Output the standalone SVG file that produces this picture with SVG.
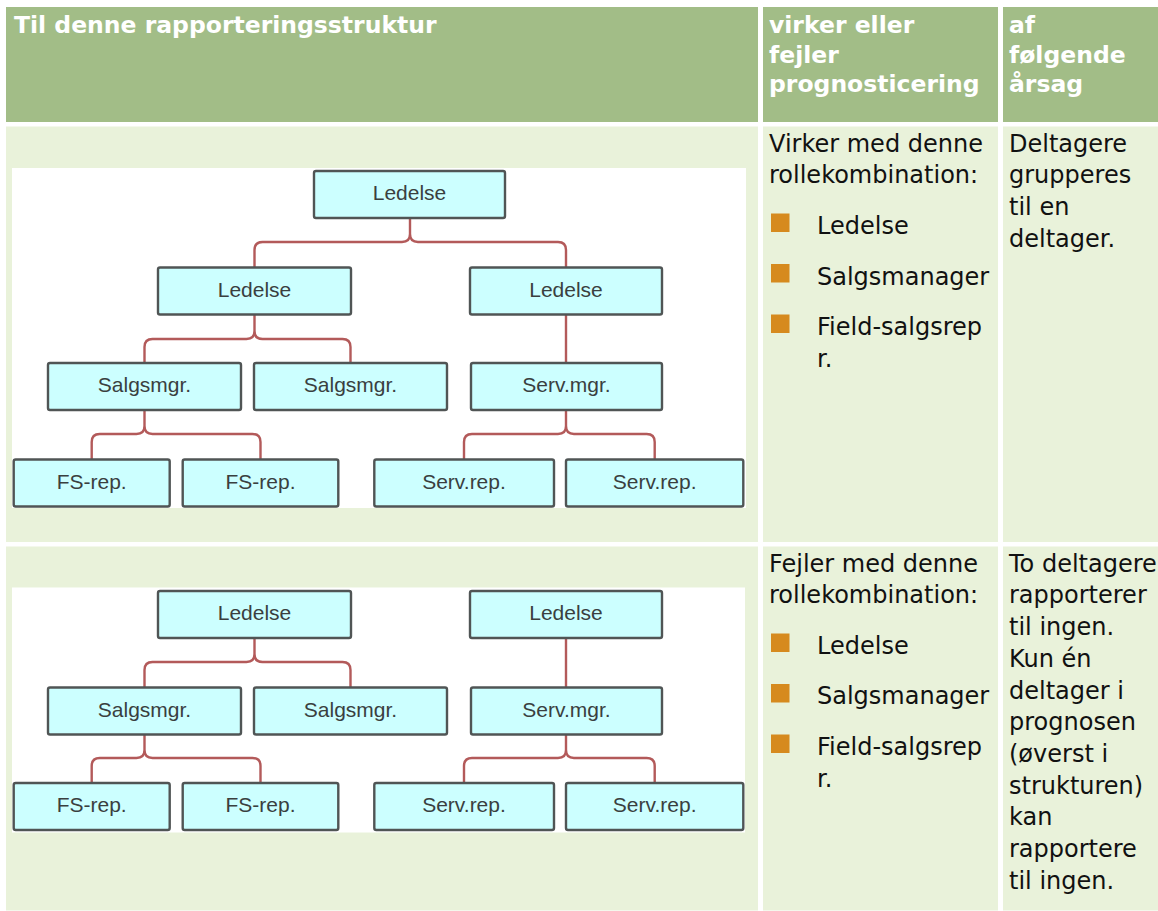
<svg xmlns="http://www.w3.org/2000/svg" width="1158" height="911" viewBox="0 0 1158 911">
<style>
.hd{fill:#a2bd87}
.rw{fill:#e9f2da}
.ht{font-family:"DejaVu Sans",Verdana,sans-serif;font-weight:bold;font-size:23.5px;fill:#ffffff}
.bt{font-family:"DejaVu Sans",Verdana,sans-serif;font-size:24px;fill:#111111}
.bl{fill:#d68a1e}
.nd rect{fill:#ccffff;stroke:#505555;stroke-width:2.4}
.nd text{font-family:"Liberation Sans",Arial,sans-serif;font-size:21px;fill:#3a3f3f;text-anchor:middle}
.cn path{fill:none;stroke:#b35a5a;stroke-width:2.4}
</style>
<rect width="1158" height="911" fill="#ffffff"/>
<!-- header -->
<rect class="hd" x="6" y="7" width="752" height="115"/>
<rect class="hd" x="763" y="7" width="235" height="115"/>
<rect class="hd" x="1003" y="7" width="160" height="115"/>
<text class="ht" x="14" y="33.3">Til denne rapporteringsstruktur</text>
<text class="ht" x="769"><tspan x="769" y="33.3">virker eller</tspan><tspan x="769" y="62.5">fejler</tspan><tspan x="769" y="91.7">prognosticering</tspan></text>
<text class="ht" x="1009"><tspan x="1009" y="33.3">af</tspan><tspan x="1009" y="62.5">følgende</tspan><tspan x="1009" y="91.7">årsag</tspan></text>
<!-- row 1 -->
<rect class="rw" x="6" y="126.5" width="752" height="415.5"/>
<rect class="rw" x="763" y="126.5" width="235" height="415.5"/>
<rect class="rw" x="1003" y="126.5" width="160" height="415.5"/>
<rect x="12" y="168" width="734" height="340" fill="#ffffff"/>
<text class="bt"><tspan x="769" y="151.7">Virker med denne</tspan><tspan x="769" y="183.4">rollekombination:</tspan></text>
<rect class="bl" x="771" y="213.5" width="18.5" height="18.5"/>
<rect class="bl" x="771" y="264" width="18.5" height="18.5"/>
<rect class="bl" x="771" y="314.5" width="18.5" height="18.5"/>
<text class="bt" x="817" y="234.3">Ledelse</text>
<text class="bt" x="817" y="285">Salgsmanager</text>
<text class="bt"><tspan x="817" y="335.3">Field-salgsrep</tspan><tspan x="817" y="367">r.</tspan></text>
<text class="bt"><tspan x="1009" y="151.7">Deltagere</tspan><tspan x="1009" y="183.4">grupperes</tspan><tspan x="1009" y="215">til en</tspan><tspan x="1009" y="246.8">deltager.</tspan></text>
<!-- row 2 -->
<rect class="rw" x="6" y="546.5" width="752" height="364"/>
<rect class="rw" x="763" y="546.5" width="235" height="364"/>
<rect class="rw" x="1003" y="546.5" width="160" height="364"/>
<rect x="12" y="587.5" width="733" height="245" fill="#ffffff"/>
<text class="bt"><tspan x="769" y="571.7">Fejler med denne</tspan><tspan x="769" y="603.3">rollekombination:</tspan></text>
<rect class="bl" x="771" y="633.5" width="18.5" height="18.5"/>
<rect class="bl" x="771" y="684" width="18.5" height="18.5"/>
<rect class="bl" x="771" y="734.5" width="18.5" height="18.5"/>
<text class="bt" x="817" y="653.5">Ledelse</text>
<text class="bt" x="817" y="704">Salgsmanager</text>
<text class="bt"><tspan x="817" y="754.5">Field-salgsrep</tspan><tspan x="817" y="786.5">r.</tspan></text>
<text class="bt"><tspan x="1009" y="571.7">To deltagere</tspan><tspan x="1009" y="603.4">rapporterer</tspan><tspan x="1009" y="635.1">til ingen.</tspan><tspan x="1009" y="666.8">Kun én</tspan><tspan x="1009" y="698.5">deltager i</tspan><tspan x="1009" y="730.2">prognosen</tspan><tspan x="1009" y="761.9">(øverst i</tspan><tspan x="1009" y="793.6">strukturen)</tspan><tspan x="1009" y="825.3">kan</tspan><tspan x="1009" y="857">rapportere</tspan><tspan x="1009" y="888.7">til ingen.</tspan></text>
<!-- connectors -->
<g id="connectors" class="cn">
<path d="M254.5 267 V250 Q254.5 242 262.5 242 H402 Q410 242 410 234 Q410 242 418 242 H558 Q566 242 566 250 V267 M410 234 V219"/>
<path d="M144.5 363 V347 Q144.5 339 152.5 339 H246.5 Q254.5 339 254.5 331 Q254.5 339 262.5 339 H342.5 Q350.5 339 350.5 347 V363 M254.5 331 V315"/>
<path d="M566 315 V363"/>
<path d="M91.7 459 V442 Q91.7 434 99.7 434 H136.5 Q144.5 434 144.5 426 Q144.5 434 152.5 434 H252.5 Q260.5 434 260.5 442 V459 M144.5 426 V410"/>
<path d="M464 459 V442 Q464 434 472 434 H558 Q566 434 566 426 Q566 434 574 434 H646.7 Q654.7 434 654.7 442 V459 M566 426 V410"/>
<path d="M144.5 687 V670 Q144.5 662 152.5 662 H246.5 Q254.5 662 254.5 654 Q254.5 662 262.5 662 H342.5 Q350.5 662 350.5 670 V687 M254.5 654 V639"/>
<path d="M566 639 V687"/>
<path d="M91.7 783 V766 Q91.7 758 99.7 758 H136.5 Q144.5 758 144.5 750 Q144.5 758 152.5 758 H252.5 Q260.5 758 260.5 766 V783 M144.5 750 V735"/>
<path d="M464 783 V766 Q464 758 472 758 H558 Q566 758 566 750 Q566 758 574 758 H646.7 Q654.7 758 654.7 766 V783 M566 750 V735"/>
</g>
<!-- diagram 1 nodes -->
<g id="d1-top" class="nd"><rect x="314" y="171" width="191" height="47" rx="2"/><text x="409.5" y="200">Ledelse</text></g>
<g id="d1-led-l" class="nd"><rect x="158" y="267.5" width="193" height="47" rx="2"/><text x="254.5" y="296.5">Ledelse</text></g>
<g id="d1-led-r" class="nd"><rect x="470" y="267.5" width="192" height="47" rx="2"/><text x="566" y="296.5">Ledelse</text></g>
<g id="d1-sm1" class="nd"><rect x="48" y="363" width="193" height="47" rx="2"/><text x="144.5" y="392">Salgsmgr.</text></g>
<g id="d1-sm2" class="nd"><rect x="254" y="363" width="193" height="47" rx="2"/><text x="350.5" y="392">Salgsmgr.</text></g>
<g id="d1-svm" class="nd"><rect x="471" y="363" width="191" height="47" rx="2"/><text x="566.5" y="392">Serv.mgr.</text></g>
<g id="d1-fs1" class="nd"><rect x="13.7" y="459.5" width="156" height="47" rx="2"/><text x="91.7" y="488.5">FS-rep.</text></g>
<g id="d1-fs2" class="nd"><rect x="182.7" y="459.5" width="155.6" height="47" rx="2"/><text x="260.5" y="488.5">FS-rep.</text></g>
<g id="d1-sr1" class="nd"><rect x="374.3" y="459.5" width="179.7" height="47" rx="2"/><text x="464" y="488.5">Serv.rep.</text></g>
<g id="d1-sr2" class="nd"><rect x="566" y="459.5" width="177.3" height="47" rx="2"/><text x="654.7" y="488.5">Serv.rep.</text></g>
<!-- diagram 2 nodes -->
<g id="d2-led-l" class="nd"><rect x="158" y="591" width="193" height="47" rx="2"/><text x="254.5" y="620">Ledelse</text></g>
<g id="d2-led-r" class="nd"><rect x="470" y="591" width="192" height="47" rx="2"/><text x="566" y="620">Ledelse</text></g>
<g id="d2-sm1" class="nd"><rect x="48" y="687.5" width="193" height="47" rx="2"/><text x="144.5" y="716.5">Salgsmgr.</text></g>
<g id="d2-sm2" class="nd"><rect x="254" y="687.5" width="193" height="47" rx="2"/><text x="350.5" y="716.5">Salgsmgr.</text></g>
<g id="d2-svm" class="nd"><rect x="471" y="687.5" width="191" height="47" rx="2"/><text x="566.5" y="716.5">Serv.mgr.</text></g>
<g id="d2-fs1" class="nd"><rect x="13.7" y="783" width="156" height="47" rx="2"/><text x="91.7" y="812">FS-rep.</text></g>
<g id="d2-fs2" class="nd"><rect x="182.7" y="783" width="155.6" height="47" rx="2"/><text x="260.5" y="812">FS-rep.</text></g>
<g id="d2-sr1" class="nd"><rect x="374.3" y="783" width="179.7" height="47" rx="2"/><text x="464" y="812">Serv.rep.</text></g>
<g id="d2-sr2" class="nd"><rect x="566" y="783" width="177.3" height="47" rx="2"/><text x="654.7" y="812">Serv.rep.</text></g>
</svg>
